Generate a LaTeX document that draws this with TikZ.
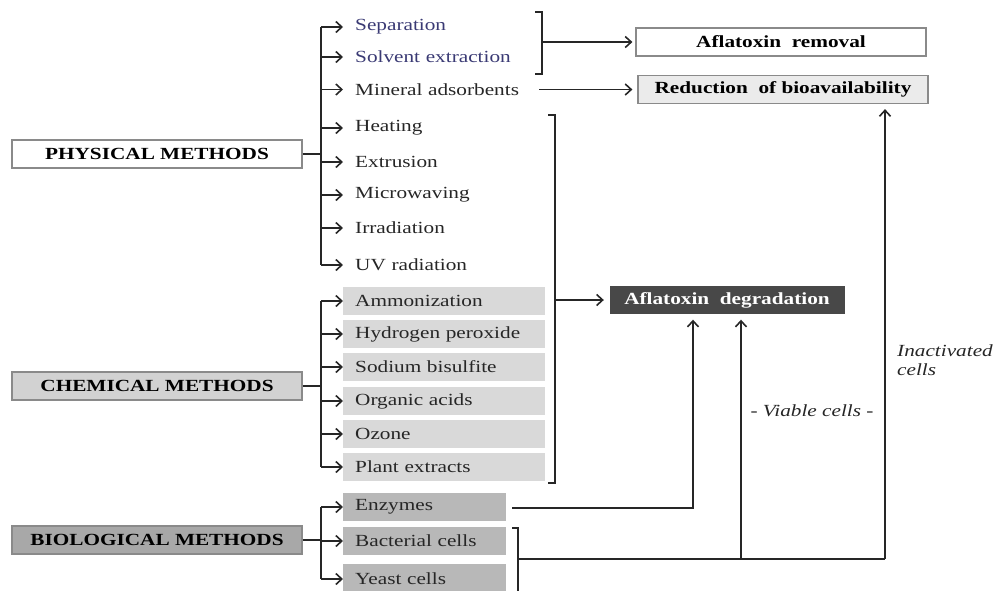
\documentclass[tikz,border=0pt]{standalone}
\usepackage{fontspec}
\setmainfont{Liberation Serif}[FakeStretch=1.25]
\usetikzlibrary{arrows.meta}
\definecolor{lnc}{HTML}{262626}
\definecolor{bluetx}{HTML}{3A3A74}
\definecolor{chemfill}{HTML}{D9D9D9}
\definecolor{chemhead}{HTML}{D2D2D2}
\definecolor{biofill}{HTML}{B8B8B8}
\definecolor{biohead}{HTML}{A8A8A8}
\definecolor{degfill}{HTML}{484848}
\definecolor{redfill}{HTML}{EBEBEB}
\definecolor{bordc}{HTML}{8A8A8A}
\tikzset{
  x=1pt, y=-1pt,
  every node/.style={font=\fontsize{17}{19.5}\selectfont, text=lnc},
  trunk/.style={draw=lnc, line width=2pt},
  arr/.style={draw=lnc, line width=1.6pt, -{Straight Barb[length=6pt,width=11pt,line width=1.6pt]}},
  headbox/.style={draw=bordc, line width=1.2pt, minimum width=290pt, minimum height=28pt, font=\fontsize{17}{19.5}\selectfont\bfseries, text=black},
  item/.style={anchor=west, text width=178pt, inner xsep=12pt, inner ysep=0pt, minimum height=28pt, align=left},
  resbox/.style={draw=bordc, line width=1.2pt, minimum width=290pt, minimum height=28pt, font=\fontsize{17}{19.5}\selectfont\bfseries, text=black},
  lbl/.style={font=\fontsize{17}{19.5}\selectfont\itshape, text=lnc}
}
\begin{document}
\begin{tikzpicture}
\useasboundingbox (0,0) rectangle (995,590);
% heads
\node[headbox, fill=white] (phys) at (157,154) {PHYSICAL METHODS};
\node[headbox, fill=chemhead] (chem) at (157,386) {CHEMICAL METHODS};
\node[headbox, fill=biohead] (bio) at (157,540) {BIOLOGICAL METHODS};
% physical items
\node[item, text=bluetx] (sep) at (343,27) {Separation};
\node[item, text=bluetx] (solv) at (343,57) {Solvent extraction};
\node[item] (mine) at (343,89.5) {Mineral adsorbents};
\node[item] (heat) at (343,128) {Heating};
\node[item] (extr) at (343,162) {Extrusion};
\node[item] (micro) at (343,195) {Microwaving};
\node[item] (irr) at (343,228) {Irradiation};
\node[item] (uv) at (343,265) {UV radiation};
% chemical items
\node[item, fill=chemfill] (amm) at (343,301) {Ammonization};
\node[item, fill=chemfill] (hyd) at (343,334) {Hydrogen peroxide};
\node[item, fill=chemfill] (sod) at (343,367) {Sodium bisulfite};
\node[item, fill=chemfill] (org) at (343,401) {Organic acids};
\node[item, fill=chemfill] (ozo) at (343,434) {Ozone};
\node[item, fill=chemfill] (pla) at (343,467) {Plant extracts};
% biological items
\node[item, fill=biofill, text width=139pt] (enz) at (343,507) {Enzymes};
\node[item, fill=biofill, text width=139pt] (bac) at (343,541) {Bacterial cells};
\node[item, fill=biofill, text width=139pt, minimum height=30pt] (yea) at (343,579) {Yeast cells};
% result boxes
\node[resbox, fill=white] (rem) at (781,42) {Aflatoxin\ \ removal};
\node[resbox, fill=redfill] (red) at (783,89.5) {Reduction\ \ of bioavailability};
\node[draw=degfill, fill=degfill, minimum width=234pt, minimum height=27pt, font=\fontsize{17}{19.5}\selectfont\bfseries, text=white] (deg) at (727,300) {Aflatoxin\ \ degradation};
% labels
\node[lbl] (viable) at (812,411) {- Viable cells -};
\node[lbl, anchor=north west, align=left, inner sep=0pt] (inact) at (897,344) {Inactivated\\cells};
% trunk coordinates
\coordinate (tp) at (321,0);
% physical trunk
\draw[trunk] (phys.east) -- (tp |- phys);
\draw[trunk] (tp |- sep) -- (tp |- uv);
\foreach \n in {sep,solv,mine,heat,extr,micro,irr,uv}{
  \draw[arr] (tp |- \n) -- (\n.west);
}
% chemical trunk
\draw[trunk] (chem.east) -- (tp |- chem);
\draw[trunk] (tp |- amm) -- (tp |- pla);
\foreach \n in {amm,hyd,sod,org,ozo,pla}{
  \draw[arr] (tp |- \n) -- (\n.west);
}
% biological trunk
\draw[trunk] (bio.east) -- (tp |- bio);
\draw[trunk] (tp |- enz) -- (tp |- yea);
\foreach \n in {enz,bac,yea}{
  \draw[arr] (tp |- \n) -- (\n.west);
}
% bracket separation / solvent
\coordinate (b1t) at (542,12);
\coordinate (b1b) at (542,74);
\draw[trunk] ([xshift=-7pt]b1t) -- (b1t) -- (b1b) -- ([xshift=-7pt]b1b);
\draw[arr, shorten >=3pt] (b1t |- rem) -- (rem.west);
% mineral adsorbents
\draw[arr, shorten >=5pt] ([xshift=-6pt]mine.east) -- (red.west);
% big bracket heating ... plant extracts
\coordinate (b2t) at (555,115);
\coordinate (b2b) at (555,483);
\draw[trunk] ([xshift=-7pt]b2t) -- (b2t) -- (b2b) -- ([xshift=-7pt]b2b);
\draw[arr, shorten >=6pt] (b2t |- deg) -- (deg.west);
% enzymes to degradation
\coordinate (ez) at (693,508);
\draw[arr, shorten >=6pt, line join=miter] ([xshift=6pt]enz.east |- ez) -- (ez) -- (ez |- deg.south);
% bacterial / yeast bracket
\coordinate (b3t) at (518,528);
\coordinate (b3b) at (518,592);
\coordinate (hz) at (518,559);
\coordinate (vc) at (741,559);
\coordinate (ic) at (885,559);
\draw[trunk] ([xshift=-6pt]b3t) -- (b3t) -- (b3b);
\draw[trunk] (hz) -- (ic);
\draw[arr, shorten >=6pt] (vc) -- (vc |- deg.south);
\draw[arr, shorten >=5pt] (ic) -- (ic |- red.south);
\end{tikzpicture}
\end{document}
